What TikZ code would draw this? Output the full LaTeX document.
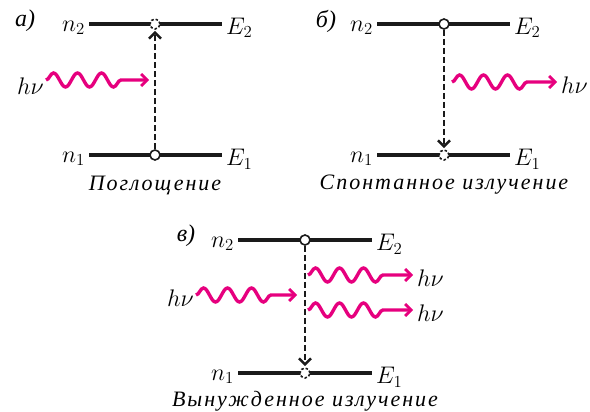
\RequirePackage{fix-cm}
\documentclass[tikz,border=0pt]{standalone}
\usepackage{fontspec}
\setmainfont{Liberation Serif}
\newfontfamily\capfont[LetterSpace=9]{Liberation Serif}
\usepackage{tikz}
\usetikzlibrary{arrows.meta,positioning,decorations.pathmorphing}
\definecolor{photon}{HTML}{E6007E}
\definecolor{lvl}{HTML}{1A1A1A}
\tikzset{
  levelline/.style={draw=lvl, line width=3.4pt},
  popstate/.style={circle, draw=lvl, fill=white, line width=1.6pt,
    inner sep=0pt, minimum size=10pt},
  emptystate/.style={popstate, dash pattern=on 2.5pt off 2pt},
  jump/.style={draw=lvl, dash pattern=on 6pt off 3pt, line width=1.8pt,
    -{Straight Barb[length=6pt, width=12pt, line width=2.6pt]}},
  wave/.style={draw=photon, line width=3.4pt,
    decorate, decoration={snake, amplitude=7pt, segment length=24pt, post length=20pt},
    -{Straight Barb[length=6pt, width=12pt, line width=2.8pt]}},
  lbl/.style={font=\fontsize{24}{24}\selectfont, inner sep=1pt},
  capt/.style={font=\fontsize{22}{22}\selectfont\capfont\itshape, inner sep=0pt},
  tagtext/.style={font=\fontsize{24}{24}\selectfont\itshape, inner sep=0pt},
}
\begin{document}
\begin{tikzpicture}[x=1pt, y=-1pt]
\useasboundingbox (0,0) rectangle (590,412);

% a) absorption
\begin{scope}[shift={(89,24)}]
  \coordinate (a2l) at (0,0);   \coordinate (a2r) at (133,0);
  \coordinate (a1l) at (0,131); \coordinate (a1r) at (133,131);
  \draw[levelline] (a2l) -- (a2r);
  \draw[levelline] (a1l) -- (a1r);
  \node[emptystate] (a2) at (66,0) {};
  \node[popstate] (a1) at (66,131) {};
  \draw[jump] (a1) -- ([yshift=-1pt]a2.south);
  \node[lbl, anchor=east] (an2) at ([shift={(-3,4)}]a2l) {$n_2$};
  \node[lbl, anchor=east] (an1) at ([shift={(-3,4)}]a1l) {$n_1$};
  \node[lbl, anchor=west] (aE2) at ([shift={(3,4)}]a2r) {$E_2$};
  \node[lbl, anchor=west] (aE1) at ([shift={(3,4)}]a1r) {$E_1$};
  \node[tagtext] (atag) at (-64,-3) {а)};
  \coordinate (ain) at (-43,56);
  \coordinate (aout) at (60,56);
  \draw[wave] (ain) -- (aout);
  \node[lbl, anchor=east] (ahv) at ([shift={(-1,6)}]ain) {$h\nu$};
  \node[capt] (acap) at (66,161) {Поглощение};
\end{scope}

% b) spontaneous emission
\begin{scope}[shift={(377,24)}]
  \coordinate (b2l) at (0,0);   \coordinate (b2r) at (133,0);
  \coordinate (b1l) at (0,131); \coordinate (b1r) at (133,131);
  \draw[levelline] (b2l) -- (b2r);
  \draw[levelline] (b1l) -- (b1r);
  \node[popstate] (b2) at (67,0) {};
  \node[emptystate] (b1) at (67,131) {};
  \draw[jump] (b2) -- ([yshift=1pt]b1.north);
  \node[lbl, anchor=east] (bn2) at ([shift={(-3,4)}]b2l) {$n_2$};
  \node[lbl, anchor=east] (bn1) at ([shift={(-3,4)}]b1l) {$n_1$};
  \node[lbl, anchor=west] (bE2) at ([shift={(3,4)}]b2r) {$E_2$};
  \node[lbl, anchor=west] (bE1) at ([shift={(3,4)}]b1r) {$E_1$};
  \node[tagtext] (btag) at (-51,-3) {б)};
  \coordinate (bin) at (75,58);
  \coordinate (bout) at (180,58);
  \draw[wave] (bin) -- (bout);
  \node[lbl, anchor=west] (bhv) at ([shift={(3,3)}]bout) {$h\nu$};
  \node[capt] (bcap) at (67,161) {Спонтанное излучение};
\end{scope}

% c) stimulated emission
\begin{scope}[shift={(238,240)}]
  \coordinate (c2l) at (0,0);   \coordinate (c2r) at (134,0);
  \coordinate (c1l) at (0,133); \coordinate (c1r) at (134,133);
  \draw[levelline] (c2l) -- (c2r);
  \draw[levelline] (c1l) -- (c1r);
  \node[popstate] (c2) at (67,0) {};
  \node[emptystate] (c1) at (67,133) {};
  \draw[jump] (c2) -- ([yshift=1pt]c1.north);
  \node[lbl, anchor=east] (cn2) at ([shift={(-3,4)}]c2l) {$n_2$};
  \node[lbl, anchor=east] (cn1) at ([shift={(-3,4)}]c1l) {$n_1$};
  \node[lbl, anchor=west] (cE2) at ([shift={(3,4)}]c2r) {$E_2$};
  \node[lbl, anchor=west] (cE1) at ([shift={(3,4)}]c1r) {$E_1$};
  \node[tagtext] (ctag) at (-52,-4) {в)};
  \coordinate (cin) at (-42,55);
  \coordinate (cmid) at (59,55);
  \draw[wave] (cin) -- (cmid);
  \node[lbl, anchor=east] (chv) at ([shift={(-1,3)}]cin) {$h\nu$};
  \coordinate (cup) at (70,35);
  \coordinate (cupend) at (175,35);
  \draw[wave] (cup) -- (cupend);
  \node[lbl, anchor=west] (chv1) at ([shift={(3,3)}]cupend) {$h\nu$};
  \coordinate (cdn) at (70,70);
  \coordinate (cdnend) at (175,70);
  \draw[wave] (cdn) -- (cdnend);
  \node[lbl, anchor=west] (chv2) at ([shift={(3,3)}]cdnend) {$h\nu$};
  \node[capt] (ccap) at (67,161) {Вынужденное излучение};
\end{scope}
\end{tikzpicture}
\end{document}
